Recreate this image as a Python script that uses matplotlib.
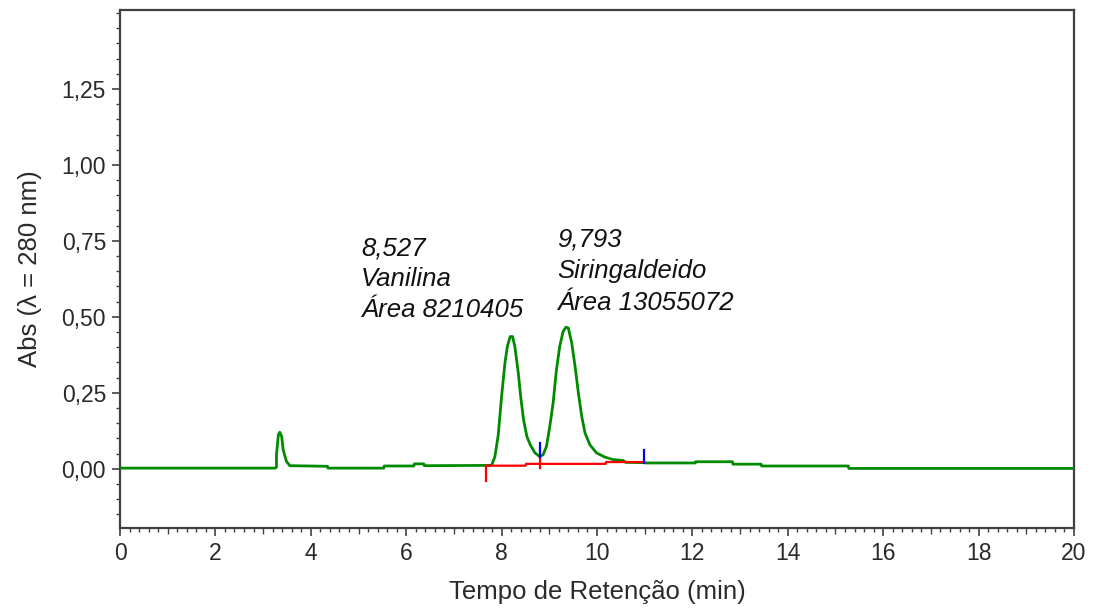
import numpy as np
import matplotlib; matplotlib.use("Agg")
import matplotlib.pyplot as plt
from matplotlib.ticker import MultipleLocator, FuncFormatter

plt.rcParams["font.family"] = ["Liberation Sans", "DejaVu Sans"]

# chromatogram trace, read point by point (min, Abs)
trace_t = [0.00, 3.25, 3.28, 3.28, 3.32, 3.35, 3.39, 3.42, 3.46, 3.49, 3.56, 4.35, 4.36, 5.53, 5.54,
           6.16, 6.17, 6.37, 6.38, 7.79, 7.86, 7.93, 8.00, 8.07, 8.12, 8.18, 8.23, 8.28, 8.35,
           8.40, 8.46, 8.53, 8.60, 8.70, 8.80, 8.87, 8.94, 9.01, 9.08, 9.15, 9.22, 9.29, 9.35,
           9.40, 9.47, 9.54, 9.61, 9.68, 9.75, 9.85, 9.99, 10.17, 10.34, 10.55, 10.60, 11.00,
           11.02, 12.06, 12.07, 12.84, 12.85, 13.44, 13.45, 15.27, 15.28, 20.00]
trace_a = [0.002, 0.002, 0.005, 0.046, 0.112, 0.120, 0.106, 0.062, 0.040, 0.024, 0.010, 0.008, 0.002, 0.002, 0.009,
           0.009, 0.016, 0.016, 0.010, 0.011, 0.040, 0.112, 0.238, 0.348, 0.402, 0.435, 0.435, 0.400, 0.315,
           0.238, 0.161, 0.106, 0.079, 0.052, 0.040, 0.046, 0.073, 0.139, 0.216, 0.326, 0.404, 0.452, 0.466,
           0.463, 0.414, 0.337, 0.249, 0.172, 0.117, 0.079, 0.052, 0.038, 0.030, 0.027, 0.021, 0.020,
           0.019, 0.019, 0.023, 0.023, 0.015, 0.015, 0.009, 0.009, 0.001, 0.001]

# integration baselines (red)
base1_t = [7.67, 8.50, 8.51, 8.81]
base1_a = [0.010, 0.010, 0.016, 0.016]
base2_t = [8.81, 10.18, 10.19, 10.99]
base2_a = [0.016, 0.016, 0.022, 0.022]

# peak start/end markers: (time, low, high)
red_marks = [(7.67, -0.039, 0.010), (8.81, 0.002, 0.040)]
blue_marks = [(8.81, 0.040, 0.085), (10.99, 0.019, 0.062)]

# peak labels
lbl_x = [5.05, 9.16]
lbl_lines = [["8,527", "Vanilina", "Área 8210405"],
             ["9,793", "Siringaldeido", "Área 13055072"]]
lbl_y = [[0.701, 0.600, 0.501], [0.731, 0.627, 0.523]]

GREEN = "#008a00"; FRAME = "#404040"; TXT = "#2a2a2a"

fig = plt.figure(figsize=(10.94, 6.12), dpi=100)
ax = fig.add_axes([0.1097, 0.1373, 0.872, 0.8464])

ax.plot(trace_t, trace_a, color=GREEN, lw=2.0, zorder=3)
ax.plot(base1_t, base1_a, color="red", lw=1.6, zorder=4)
ax.plot(base2_t, base2_a, color="red", lw=1.6, zorder=4)
for t, lo, hi in red_marks:
    ax.plot([t, t], [lo, hi], color="red", lw=1.6, zorder=4)
for t, lo, hi in blue_marks:
    ax.plot([t, t], [lo, hi], color="blue", lw=1.6, zorder=4)

for x, lines, ys in zip(lbl_x, lbl_lines, lbl_y):
    for s, y in zip(lines, ys):
        ax.text(x, y, s, style="italic", fontsize=18.5, va="baseline", ha="left", color="#111")

ax.set_xlim(0, 20); ax.set_ylim(-0.195, 1.51)
ax.xaxis.set_major_locator(MultipleLocator(2)); ax.xaxis.set_minor_locator(MultipleLocator(0.2))
ax.set_yticks([0, 0.25, 0.5, 0.75, 1.0, 1.25]); ax.yaxis.set_minor_locator(MultipleLocator(0.05))
ax.yaxis.set_major_formatter(FuncFormatter(lambda v, p: f"{v:.2f}".replace(".", ",")))
ax.tick_params(which="major", length=6, width=1.2, color=FRAME, labelsize=16.5, labelcolor=TXT, pad=4)
ax.tick_params(which="minor", length=3, width=1.0, color=FRAME)
# odd minutes get a mid-length tick
for tk, v in zip(ax.xaxis.get_minor_ticks(), ax.xaxis.get_minorticklocs()):
    if abs(v - round(v)) < 1e-6 and round(v) % 2 == 1:
        tk.tick1line.set_markersize(4.5)

for s in ax.spines.values():
    s.set_color(FRAME); s.set_linewidth(1.6)

ax.set_xlabel("Tempo de Retenção (min)", fontsize=18.5, color=TXT, labelpad=11)
ax.set_ylabel("Abs (λ = 280 nm)", fontsize=18.5, color=TXT, labelpad=14)

fig.savefig("out.png", dpi=100)
